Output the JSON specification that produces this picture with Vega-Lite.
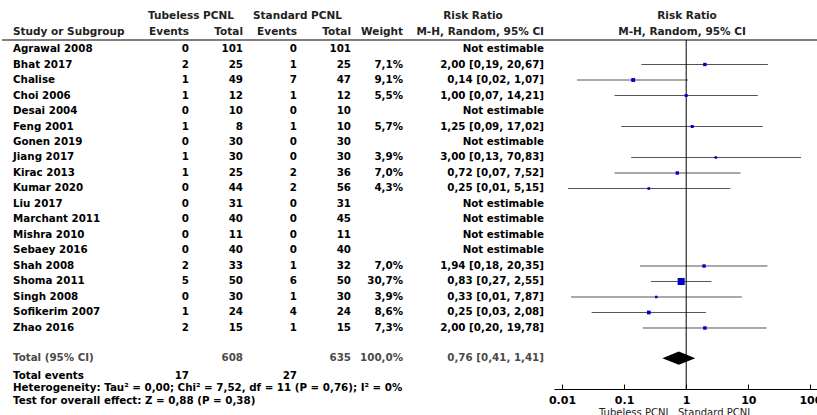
{
  "$schema": "https://vega.github.io/schema/vega-lite/v6.json",
  "width": 817,
  "height": 389,
  "autosize": {"type": "none"},
  "padding": {"left": 0, "top": 0, "right": 0, "bottom": 26},
  "background": "white",
  "config": {
    "view": {"stroke": null},
    "locale": {"number": {"decimal": ",", "thousands": ".", "grouping": [3], "currency": ["", ""]}},
    "text": {"font": "DejaVu Sans", "fontSize": 10.3, "fontWeight": "bold", "baseline": "middle", "color": "black"}
  },
  "datasets": {
    "studies": [
      {"study": "Agrawal 2008", "te": 0, "tt": 101, "se": 0, "st": 101, "weight": null, "ci": "Not estimable", "est": null, "lo": null, "hi": null},
      {"study": "Bhat 2017", "te": 2, "tt": 25, "se": 1, "st": 25, "weight": 0.071, "ci": "2,00 [0,19, 20,67]", "est": 2.0, "lo": 0.19, "hi": 20.67},
      {"study": "Chalise", "te": 1, "tt": 49, "se": 7, "st": 47, "weight": 0.091, "ci": "0,14 [0,02, 1,07]", "est": 0.14, "lo": 0.0175, "hi": 1.07},
      {"study": "Choi 2006", "te": 1, "tt": 12, "se": 1, "st": 12, "weight": 0.055, "ci": "1,00 [0,07, 14,21]", "est": 1.0, "lo": 0.07, "hi": 14.21},
      {"study": "Desai 2004", "te": 0, "tt": 10, "se": 0, "st": 10, "weight": null, "ci": "Not estimable", "est": null, "lo": null, "hi": null},
      {"study": "Feng 2001", "te": 1, "tt": 8, "se": 1, "st": 10, "weight": 0.057, "ci": "1,25 [0,09, 17,02]", "est": 1.25, "lo": 0.09, "hi": 17.02},
      {"study": "Gonen 2019", "te": 0, "tt": 30, "se": 0, "st": 30, "weight": null, "ci": "Not estimable", "est": null, "lo": null, "hi": null},
      {"study": "Jiang 2017", "te": 1, "tt": 30, "se": 0, "st": 30, "weight": 0.039, "ci": "3,00 [0,13, 70,83]", "est": 3.0, "lo": 0.13, "hi": 70.83},
      {"study": "Kirac 2013", "te": 1, "tt": 25, "se": 2, "st": 36, "weight": 0.07, "ci": "0,72 [0,07, 7,52]", "est": 0.72, "lo": 0.07, "hi": 7.52},
      {"study": "Kumar 2020", "te": 0, "tt": 44, "se": 2, "st": 56, "weight": 0.043, "ci": "0,25 [0,01, 5,15]", "est": 0.25, "lo": 0.0125, "hi": 5.15},
      {"study": "Liu 2017", "te": 0, "tt": 31, "se": 0, "st": 31, "weight": null, "ci": "Not estimable", "est": null, "lo": null, "hi": null},
      {"study": "Marchant 2011", "te": 0, "tt": 40, "se": 0, "st": 45, "weight": null, "ci": "Not estimable", "est": null, "lo": null, "hi": null},
      {"study": "Mishra 2010", "te": 0, "tt": 11, "se": 0, "st": 11, "weight": null, "ci": "Not estimable", "est": null, "lo": null, "hi": null},
      {"study": "Sebaey 2016", "te": 0, "tt": 40, "se": 0, "st": 40, "weight": null, "ci": "Not estimable", "est": null, "lo": null, "hi": null},
      {"study": "Shah 2008", "te": 2, "tt": 33, "se": 1, "st": 32, "weight": 0.07, "ci": "1,94 [0,18, 20,35]", "est": 1.94, "lo": 0.18, "hi": 20.35},
      {"study": "Shoma 2011", "te": 5, "tt": 50, "se": 6, "st": 50, "weight": 0.307, "ci": "0,83 [0,27, 2,55]", "est": 0.83, "lo": 0.27, "hi": 2.55},
      {"study": "Singh 2008", "te": 0, "tt": 30, "se": 1, "st": 30, "weight": 0.039, "ci": "0,33 [0,01, 7,87]", "est": 0.33, "lo": 0.014, "hi": 7.87},
      {"study": "Sofikerim 2007", "te": 1, "tt": 24, "se": 4, "st": 24, "weight": 0.086, "ci": "0,25 [0,03, 2,08]", "est": 0.25, "lo": 0.03, "hi": 2.08},
      {"study": "Zhao 2016", "te": 2, "tt": 15, "se": 1, "st": 15, "weight": 0.073, "ci": "2,00 [0,20, 19,78]", "est": 2.0, "lo": 0.2, "hi": 19.78}
    ],
    "total": [
      {"study": "Total (95% CI)", "tt": 608, "st": 635, "weight": 1, "ci": "0,76 [0,41, 1,41]", "est": 0.76, "lo": 0.41, "hi": 1.41, "te_events": 17, "se_events": 27}
    ]
  },
  "layer": [
    {
      "layer": [
        {"data": {"values": [{}]}, "mark": {"type": "rule", "color": "#555555", "strokeWidth": 1.5},
         "encoding": {"x": {"datum": 2, "scale": {"domain": [0, 817], "nice": false, "zero": false}, "axis": null}, "x2": {"datum": 817},
                      "y": {"datum": 0.419, "scale": {"domain": [-2.1613, 22.9355], "reverse": true, "nice": false, "zero": false}, "axis": null}}},
        {"data": {"values": [{}]}, "mark": {"type": "text", "align": "center", "fontSize": 10.5, "color": "#222222"},
         "encoding": {"x": {"datum": 191}, "y": {"datum": -1.129}, "text": {"value": "Tubeless PCNL"}}},
        {"data": {"values": [{}]}, "mark": {"type": "text", "align": "center", "fontSize": 10.5, "color": "#222222"},
         "encoding": {"x": {"datum": 297.5}, "y": {"datum": -1.129}, "text": {"value": "Standard PCNL"}}},
        {"data": {"values": [{}]}, "mark": {"type": "text", "align": "center", "fontSize": 10.5, "color": "#222222"},
         "encoding": {"x": {"datum": 473}, "y": {"datum": -1.129}, "text": {"value": "Risk Ratio"}}},
        {"data": {"values": [{}]}, "mark": {"type": "text", "align": "center", "fontSize": 10.5, "color": "#222222"},
         "encoding": {"x": {"datum": 687}, "y": {"datum": -1.129}, "text": {"value": "Risk Ratio"}}},
        {"data": {"values": [{}]}, "mark": {"type": "text", "align": "left", "fontSize": 10.5, "color": "#222222"},
         "encoding": {"x": {"datum": 13}, "y": {"datum": -0.097}, "text": {"value": "Study or Subgroup"}}},
        {"data": {"values": [{}]}, "mark": {"type": "text", "align": "right", "fontSize": 10.5, "color": "#222222"},
         "encoding": {"x": {"datum": 189}, "y": {"datum": -0.097}, "text": {"value": "Events"}}},
        {"data": {"values": [{}]}, "mark": {"type": "text", "align": "right", "fontSize": 10.5, "color": "#222222"},
         "encoding": {"x": {"datum": 243}, "y": {"datum": -0.097}, "text": {"value": "Total"}}},
        {"data": {"values": [{}]}, "mark": {"type": "text", "align": "right", "fontSize": 10.5, "color": "#222222"},
         "encoding": {"x": {"datum": 297}, "y": {"datum": -0.097}, "text": {"value": "Events"}}},
        {"data": {"values": [{}]}, "mark": {"type": "text", "align": "right", "fontSize": 10.5, "color": "#222222"},
         "encoding": {"x": {"datum": 351}, "y": {"datum": -0.097}, "text": {"value": "Total"}}},
        {"data": {"values": [{}]}, "mark": {"type": "text", "align": "right", "fontSize": 10.5, "color": "#222222"},
         "encoding": {"x": {"datum": 403}, "y": {"datum": -0.097}, "text": {"value": "Weight"}}},
        {"data": {"values": [{}]}, "mark": {"type": "text", "align": "right", "fontSize": 10.5, "color": "#222222"},
         "encoding": {"x": {"datum": 544}, "y": {"datum": -0.097}, "text": {"value": "M-H, Random, 95% CI"}}},
        {"data": {"values": [{}]}, "mark": {"type": "text", "align": "center", "fontSize": 10.5, "color": "#222222"},
         "encoding": {"x": {"datum": 682}, "y": {"datum": -0.097}, "text": {"value": "M-H, Random, 95% CI"}}},

        {"data": {"name": "studies"}, "transform": [{"window": [{"op": "row_number", "as": "row"}]}],
         "mark": {"type": "text", "align": "left"},
         "encoding": {"x": {"datum": 13}, "y": {"field": "row", "type": "quantitative"}, "text": {"field": "study"}}},
        {"data": {"name": "studies"}, "transform": [{"window": [{"op": "row_number", "as": "row"}]}],
         "mark": {"type": "text", "align": "right"},
         "encoding": {"x": {"datum": 189}, "y": {"field": "row", "type": "quantitative"}, "text": {"field": "te"}}},
        {"data": {"name": "studies"}, "transform": [{"window": [{"op": "row_number", "as": "row"}]}],
         "mark": {"type": "text", "align": "right"},
         "encoding": {"x": {"datum": 243}, "y": {"field": "row", "type": "quantitative"}, "text": {"field": "tt"}}},
        {"data": {"name": "studies"}, "transform": [{"window": [{"op": "row_number", "as": "row"}]}],
         "mark": {"type": "text", "align": "right"},
         "encoding": {"x": {"datum": 297}, "y": {"field": "row", "type": "quantitative"}, "text": {"field": "se"}}},
        {"data": {"name": "studies"}, "transform": [{"window": [{"op": "row_number", "as": "row"}]}],
         "mark": {"type": "text", "align": "right"},
         "encoding": {"x": {"datum": 351}, "y": {"field": "row", "type": "quantitative"}, "text": {"field": "st"}}},
        {"data": {"name": "studies"}, "transform": [{"window": [{"op": "row_number", "as": "row"}]}, {"filter": "isValid(datum.weight)"}],
         "mark": {"type": "text", "align": "right"},
         "encoding": {"x": {"datum": 403}, "y": {"field": "row", "type": "quantitative"}, "text": {"field": "weight", "type": "quantitative", "format": ".1%"}}},
        {"data": {"name": "studies"}, "transform": [{"window": [{"op": "row_number", "as": "row"}]}],
         "mark": {"type": "text", "align": "right"},
         "encoding": {"x": {"datum": 544}, "y": {"field": "row", "type": "quantitative"}, "text": {"field": "ci"}}},

        {"data": {"name": "total"}, "mark": {"type": "text", "align": "left", "color": "#4a4a4a"},
         "encoding": {"x": {"datum": 13}, "y": {"datum": 20.95}, "text": {"field": "study"}}},
        {"data": {"name": "total"}, "mark": {"type": "text", "align": "right", "color": "#4a4a4a"},
         "encoding": {"x": {"datum": 243}, "y": {"datum": 20.95}, "text": {"field": "tt"}}},
        {"data": {"name": "total"}, "mark": {"type": "text", "align": "right", "color": "#4a4a4a"},
         "encoding": {"x": {"datum": 351}, "y": {"datum": 20.95}, "text": {"field": "st"}}},
        {"data": {"name": "total"}, "mark": {"type": "text", "align": "right", "color": "#4a4a4a"},
         "encoding": {"x": {"datum": 403}, "y": {"datum": 20.95}, "text": {"field": "weight", "type": "quantitative", "format": ".1%"}}},
        {"data": {"name": "total"}, "mark": {"type": "text", "align": "right", "color": "#4a4a4a"},
         "encoding": {"x": {"datum": 544}, "y": {"datum": 20.95}, "text": {"field": "ci"}}},
        {"data": {"name": "total"}, "mark": {"type": "text", "align": "left"},
         "encoding": {"x": {"datum": 13}, "y": {"datum": 22.097}, "text": {"value": "Total events"}}},
        {"data": {"name": "total"}, "mark": {"type": "text", "align": "right"},
         "encoding": {"x": {"datum": 189}, "y": {"datum": 22.097}, "text": {"field": "te_events"}}},
        {"data": {"name": "total"}, "mark": {"type": "text", "align": "right"},
         "encoding": {"x": {"datum": 297}, "y": {"datum": 22.097}, "text": {"field": "se_events"}}},
        {"data": {"values": [{}]}, "mark": {"type": "text", "align": "left"},
         "encoding": {"x": {"datum": 13}, "y": {"datum": 22.871}, "text": {"value": "Heterogeneity: Tau² = 0,00; Chi² = 7,52, df = 11 (P = 0,76); I² = 0%"}}},
        {"data": {"values": [{}]}, "mark": {"type": "text", "align": "left"},
         "encoding": {"x": {"datum": 13}, "y": {"datum": 23.71}, "text": {"value": "Test for overall effect: Z = 0,88 (P = 0,38)"}}},
        {"data": {"values": [{}]}, "mark": {"type": "text", "align": "right", "fontWeight": "normal", "fontSize": 10, "color": "#222222"},
         "encoding": {"x": {"datum": 671}, "y": {"datum": 24.48}, "text": {"value": "Tubeless PCNL"}}},
        {"data": {"values": [{}]}, "mark": {"type": "text", "align": "left", "fontWeight": "normal", "fontSize": 10, "color": "#222222"},
         "encoding": {"x": {"datum": 678}, "y": {"datum": 24.48}, "text": {"value": "Standard PCNL"}}}
      ]
    },
    {
      "layer": [
        {"data": {"name": "studies"}, "transform": [{"window": [{"op": "row_number", "as": "row"}]}, {"filter": "isValid(datum.lo)"}],
         "mark": {"type": "rule", "color": "#555555", "strokeWidth": 1},
         "encoding": {
           "x": {"field": "lo", "type": "quantitative",
                 "scale": {"type": "log", "domain": [0.00743, 127.8], "range": [554, 817], "nice": false},
                 "axis": {"orient": "bottom", "title": null, "values": [0.01, 0.1, 1, 10, 100], "labelExpr": "'' + datum.value", "grid": false, "domainColor": "black", "domainWidth": 1, "tickColor": "black", "tickSize": -5, "labelFont": "DejaVu Sans", "labelFontSize": 11, "labelFontWeight": "bold", "labelColor": "black", "labelPadding": 10, "labelFlush": false, "labelOverlap": false, "labelBound": false}},
           "x2": {"field": "hi"},
           "y": {"field": "row", "type": "quantitative"}}},
        {"data": {"values": [{}]}, "mark": {"type": "rule", "color": "black", "strokeWidth": 1},
         "encoding": {"x": {"datum": 1, "type": "quantitative"}, "y": {"datum": 0.419}, "y2": {"datum": 22.9355}}},
        {"data": {"name": "studies"}, "transform": [{"window": [{"op": "row_number", "as": "row"}]}, {"filter": "isValid(datum.est)"}],
         "mark": {"type": "point", "shape": "square", "filled": true, "color": "#0000cc", "opacity": 1},
         "encoding": {"x": {"field": "est", "type": "quantitative"}, "y": {"field": "row", "type": "quantitative"},
                      "size": {"field": "weight", "type": "quantitative", "scale": {"domain": [0, 0.307], "range": [0, 50]}, "legend": null}}},
        {"data": {"name": "total"}, "mark": {"type": "point", "shape": "M-1,0L0,-0.4L1,0L0,0.4Z", "size": 1089, "filled": true, "color": "black", "opacity": 1},
         "encoding": {"x": {"field": "est", "type": "quantitative"}, "y": {"datum": 20.95}}}
      ]
    }
  ],
  "resolve": {"scale": {"x": "independent"}, "axis": {"x": "independent"}}
}
